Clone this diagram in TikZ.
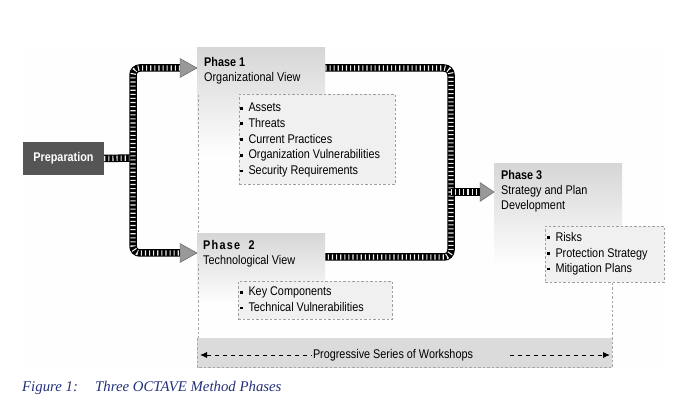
\documentclass[tikz,border=0pt]{standalone}
\usepackage{fontspec}
\setmainfont{Liberation Sans}[FakeStretch=0.86]
\newfontfamily\capfont{Liberation Serif}
\usetikzlibrary{calc,arrows.meta}
\definecolor{capblue}{HTML}{22307A}
\definecolor{prepgray}{HTML}{555555}
\definecolor{trigray}{HTML}{999999}
\newcommand{\bsq}{\rule[2.3pt]{2.8pt}{2.8pt}\hspace{5.5pt}}
\begin{document}
\begin{tikzpicture}[x=1pt,y=-1pt,font=\fontsize{12.6}{15.7}\selectfont,
  phasebox/.style={anchor=north west, inner sep=0pt, minimum width=128pt, top color=gray!32, bottom color=white},
  listbox/.style={anchor=north west, inner sep=0pt, fill=gray!12, draw=gray!75, line width=0.7pt, dash pattern=on 2.5pt off 2pt},
  phasetext/.style={anchor=north west, inner sep=0pt, align=left, font=\fontsize{12.6}{15}\selectfont},
  listtext/.style={anchor=north west, inner sep=0pt, align=left, font=\fontsize{12.6}{15.7}\selectfont},
  guide/.style={draw=gray!70, line width=0.7pt, dash pattern=on 2.5pt off 2pt},
  rail/.style={line width=5.4pt, white!85!gray, dash pattern=on 1.1pt off 3pt, rounded corners=7pt, preaction={draw, black, line width=7.5pt, solid}},
  headtri/.style={fill=trigray, draw=gray!70!black, line width=0.4pt},
  wsarrow/.style={black, line width=0.9pt, dash pattern=on 4pt off 4pt}]
\useasboundingbox (0,0) rectangle (691,414);
% faint panel
\fill[gray!1] (23,47) rectangle (664,368);

% phase boxes
\node[phasebox, minimum height=110pt] (p1) at (197,47) {};
\node[phasebox, minimum height=72pt] (p2) at (197,233) {};
\node[phasebox, minimum height=105pt] (p3) at (494,163) {};

% workshop bar
\node[anchor=north west, inner sep=0pt, minimum width=415pt, minimum height=29pt,
      left color=gray!28, middle color=white, right color=gray!28] (ws) at (197,338) {};
\draw[guide] (ws.north west) -- (ws.south west) -- (ws.south east) -- (ws.north east);

% list boxes
\node[listbox, minimum width=156pt, minimum height=90pt] (b1) at (239,94) {};
\node[listbox, minimum width=154pt, minimum height=38pt] (b2) at (238,281) {};
\node[listbox, minimum width=119pt, minimum height=56pt] (b3) at (545,226) {};

% guide lines
\coordinate (g1) at (198,95);
\coordinate (g2) at (198,264);
\draw[guide] (g1) -- (g1 |- p2.north);
\draw[guide] (g2) -- (g2 |- ws.north);
\draw[guide] (ws.north east |- b3.south) -- (ws.north east);

% preparation
\node[fill=prepgray, text=white, minimum width=81pt, minimum height=33pt, inner sep=0pt,
      font=\fontsize{12.6}{14}\selectfont\bfseries] (prep) at (63.5,158.5) {Preparation};

% connectors left
\coordinate (jL) at (133,158);
\coordinate (t1) at (180,68);
\coordinate (t2) at (180,253);
\draw[rail] (prep.east) -- (jL);
\draw[rail] (t1) -- (jL |- t1) -- (jL |- t2) -- (t2);
\filldraw[headtri] ($(t1)+(0,-9.5)$) -- (p1.west |- t1) -- ($(t1)+(0,9.5)$) -- cycle;
\filldraw[headtri] ($(t2)+(0,-9.5)$) -- (p2.west |- t2) -- ($(t2)+(0,9.5)$) -- cycle;

% connectors right
\coordinate (jR) at (451,192);
\coordinate (t3) at (480,192);
\coordinate (o1) at ($(p1.north east)+(0,21)$);
\coordinate (o2) at ($(p2.north east)+(0,24)$);
\draw[rail] (o1) -- (jR |- o1) -- (jR |- o2) -- (o2);
\draw[rail] (jR) -- (t3);
\filldraw[headtri] ($(t3)+(0,-9.5)$) -- (p3.west |- t3) -- ($(t3)+(0,9.5)$) -- cycle;

% texts
\node[phasetext] (p1t) at (204,57) {\textbf{Phase 1}\\Organizational View};
\node[phasetext] (p2t) at (203,240) {{\bfseries\addfontfeature{LetterSpace=10}Phase\ \ 2}\\Technological View};
\node[phasetext] (p3t) at (501,170) {\textbf{Phase 3}\\Strategy and Plan\\Development};

\node[listtext] (l1) at (240,103) {\bsq Assets\\\bsq Threats\\\bsq Current Practices\\\bsq Organization Vulnerabilities\\\bsq Security Requirements};
\node[listtext] (l2) at (240,287) {\bsq Key Components\\\bsq Technical Vulnerabilities};
\node[listtext] (l3) at (547,232) {\bsq Risks\\\bsq Protection Strategy\\\bsq Mitigation Plans};

% workshops arrow
\node[inner sep=0pt] (wst) at (393,355) {Progressive Series of Workshops};
\coordinate (wa) at (200,355);
\coordinate (wc) at (510,355);
\coordinate (wb) at (610,355);
\draw[wsarrow, {Latex[length=7pt,width=6pt]}-] (wa) -- ($(wst.west)+(-1,0)$);
\draw[wsarrow, -{Latex[length=7pt,width=6pt]}] (wc) -- (wb);

% caption
\node[anchor=base west, inner sep=0pt, text=capblue, font=\capfont\itshape\fontsize{14.8}{16}\selectfont] (cap1) at (22,391) {Figure 1:};
\node[anchor=base west, inner sep=0pt, text=capblue, font=\capfont\itshape\fontsize{14.8}{16}\selectfont] (cap2) at (95,391) {Three OCTAVE Method Phases};
\end{tikzpicture}
\end{document}
